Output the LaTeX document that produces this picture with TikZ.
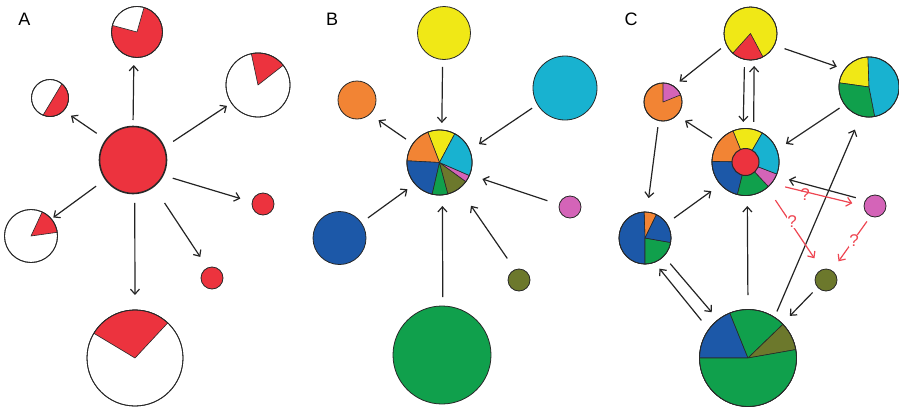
\documentclass[tikz,border=0pt]{standalone}
\usepackage{fontspec}
\setmainfont{Liberation Sans}
\usetikzlibrary{arrows.meta}
\definecolor{redP}{RGB}{236,51,62}
\definecolor{yellowP}{RGB}{240,232,22}
\definecolor{cyanP}{RGB}{24,178,208}
\definecolor{orangeP}{RGB}{242,132,52}
\definecolor{blueP}{RGB}{28,88,168}
\definecolor{greenP}{RGB}{16,160,76}
\definecolor{oliveP}{RGB}{108,120,44}
\definecolor{pinkP}{RGB}{212,100,184}
\definecolor{edgec}{RGB}{40,40,40}
\definecolor{arrc}{RGB}{35,35,35}
\definecolor{qred}{RGB}{238,70,82}
\tikzset{
  pn/.style={circle, inner sep=0pt, outer sep=0pt, draw=edgec, line width=0.8pt},
  rim/.style={draw=edgec, line width=0.8pt},
  arr/.style={draw=arrc, line width=1.2pt, -{Straight Barb[length=5pt,width=9pt]}},
  qarr/.style={draw=qred, line width=1.2pt, -{Straight Barb[length=5pt,width=9pt]}},
  panel/.style={font=\fontsize{18}{18}\selectfont, inner sep=0pt},
  qm/.style={text=qred, font=\fontsize{17}{17}\selectfont, inner sep=0.5pt}
}
\newcommand\pieslice[5]{\filldraw[fill=#5, draw=edgec, line width=0.6pt, line join=round] (#1.center) -- ++(#3:#2pt) arc[start angle=#3, end angle=#4, radius=#2pt] -- cycle;}
\newcommand\rimof[2]{\draw[rim] (#1.center) circle[radius=#2pt];}
\begin{document}
\begin{tikzpicture}[x=1pt,y=1pt]
\useasboundingbox (0,0) rectangle (899,-407);
% ---------- labels
\node[panel] (labA) at (24.5,-19) {A};
\node[panel] (labB) at (332,-19) {B};
\node[panel] (labC) at (631,-19) {C};
% ---------- panel A
\node[pn, minimum size=51pt, fill=redP] (aT) at (137,-32) {};
\pieslice{aT}{25.5}{74}{165}{white}
\rimof{aT}{25.5}
\node[pn, minimum size=37pt, fill=white] (aUL) at (50,-98) {};
\filldraw[fill=redP, draw=edgec, line width=0.6pt] (aUL.center) ++(-112:18.5pt) arc[start angle=-112, end angle=50, radius=18.5pt] -- cycle;
\rimof{aUL}{18.5}
\node[pn, minimum size=64pt, fill=white] (aUR) at (258,-85) {};
\pieslice{aUR}{32}{38}{102}{redP}
\rimof{aUR}{32}
\node[pn, minimum size=67pt, fill=redP, line width=1.6pt] (aC) at (133,-160) {};
\node[pn, minimum size=53pt, fill=white] (aLL) at (31,-236) {};
\pieslice{aLL}{26.5}{8}{65}{redP}
\rimof{aLL}{26.5}
\node[pn, minimum size=22pt, fill=redP] (aR) at (263,-204) {};
\node[pn, minimum size=22pt, fill=redP] (aLR) at (212,-278) {};
\node[pn, minimum size=96pt, fill=white] (aB) at (135,-358) {};
\pieslice{aB}{48}{47}{149}{redP}
\rimof{aB}{48}
\draw[arr, shorten <=6.5pt, shorten >=7.7pt] (aC.90) -- (aT.-97);
\draw[arr, shorten <=11.5pt, shorten >=9pt] (aC.143) -- (aUL.-43.5);
\draw[arr, shorten <=10.9pt, shorten >=5.4pt] (aC.22.5) -- (aUR.-146);
\draw[arr, shorten <=10.3pt, shorten >=12.3pt] (aC.-27) -- (aR.170);
\draw[arr, shorten <=19.9pt, shorten >=13.2pt] (aC.-52) -- (aLR.114);
\draw[arr, shorten <=9.5pt, shorten >=15pt] (aC.-87) -- (aB.90);
\draw[arr, shorten <=11.7pt, shorten >=2.5pt] (aC.-145) -- (aLL.40.8);
% ---------- panel B
\node[pn, minimum size=53pt, fill=yellowP] (bY) at (444,-33) {};
\node[pn, minimum size=64pt, fill=cyanP] (bCy) at (565,-88) {};
\node[pn, minimum size=38pt, fill=orangeP] (bO) at (357,-100) {};
\node[pn, minimum size=65pt, fill=white] (bC) at (439.5,-162.5) {};
\pieslice{bC}{32.5}{62}{111}{yellowP}
\pieslice{bC}{32.5}{111}{177}{orangeP}
\pieslice{bC}{32.5}{177}{257}{blueP}
\pieslice{bC}{32.5}{257}{285}{greenP}
\pieslice{bC}{32.5}{285}{324}{oliveP}
\pieslice{bC}{32.5}{324}{336.5}{pinkP}
\pieslice{bC}{32.5}{336.5}{422}{cyanP}
\rimof{bC}{32.5}
\node[pn, minimum size=53pt, fill=blueP] (bBl) at (339.5,-238) {};
\node[pn, minimum size=22pt, fill=pinkP] (bPk) at (570,-207) {};
\node[pn, minimum size=22pt, fill=oliveP] (bOl) at (519,-280) {};
\node[pn, minimum size=98pt, fill=greenP] (bG) at (442,-355) {};
\draw[arr, shorten <=7.5pt, shorten >=7.1pt] (bY.-93) -- (bC.86);
\draw[arr, shorten <=6.6pt, shorten >=11.2pt] (bCy.-149) -- (bC.22);
\draw[arr, shorten <=8.4pt, shorten >=10.7pt] (bC.145) -- (bO.-48);
\draw[arr, shorten <=8.3pt, shorten >=9.3pt] (bBl.35) -- (bC.-139);
\draw[arr, shorten <=12.5pt, shorten >=13.5pt] (bPk.168) -- (bC.-22);
\draw[arr, shorten <=13.7pt, shorten >=21pt] (bOl.111) -- (bC.-53);
\draw[arr, shorten <=9pt, shorten >=11.1pt] (bG.89) -- (bC.-85);
% ---------- panel C
\node[pn, minimum size=53pt, fill=yellowP] (cY) at (750.5,-33.5) {};
\pieslice{cY}{26.5}{-132}{-62}{redP}
\rimof{cY}{26.5}
\node[pn, minimum size=60pt, fill=cyanP] (cRt) at (869,-87) {};
\pieslice{cRt}{30}{92}{172}{yellowP}
\pieslice{cRt}{30}{172}{281}{greenP}
\pieslice{cRt}{30}{281}{452}{cyanP}
\rimof{cRt}{30}
\node[pn, minimum size=38pt, fill=orangeP] (cO) at (663,-102) {};
\pieslice{cO}{19}{22}{90}{pinkP}
\rimof{cO}{19}
\node[pn, minimum size=67pt, fill=white] (cC) at (745.5,-162) {};
\pieslice{cC}{33.5}{60}{112}{yellowP}
\pieslice{cC}{33.5}{112}{179}{orangeP}
\pieslice{cC}{33.5}{179}{256}{blueP}
\pieslice{cC}{33.5}{256}{313}{greenP}
\pieslice{cC}{33.5}{313}{339}{pinkP}
\pieslice{cC}{33.5}{339}{420}{cyanP}
\rimof{cC}{33.5}
\filldraw[fill=redP, draw=edgec, line width=1pt] (cC.center) circle[radius=13.5pt];
\node[pn, minimum size=52pt, fill=blueP] (cL) at (645,-238) {};
\pieslice{cL}{26}{64}{92}{orangeP}
\pieslice{cL}{26}{92}{270}{blueP}
\pieslice{cL}{26}{270}{350}{greenP}
\pieslice{cL}{26}{350}{424}{blueP}
\rimof{cL}{26}
\node[pn, minimum size=22pt, fill=pinkP] (cPk) at (875,-206) {};
\node[pn, minimum size=22pt, fill=oliveP] (cOl) at (826,-280) {};
\node[pn, minimum size=97pt, fill=greenP] (cB) at (748,-358) {};
\pieslice{cB}{48.5}{112}{180}{blueP}
\pieslice{cB}{48.5}{44}{112}{greenP}
\pieslice{cB}{48.5}{10}{44}{oliveP}
\pieslice{cB}{48.5}{180}{370}{greenP}
\rimof{cB}{48.5}
% black arrows C
\draw[arr, shorten <=6.9pt, shorten >=7.6pt] (cY.-156) -- (cO.56);
\draw[arr, shorten <=10.8pt, shorten >=8.4pt] (cY.-26) -- (cRt.144);
\draw[arr, shorten <=7.8pt, shorten >=6.6pt] (cY.-103) -- (cC.94);
\draw[arr, shorten <=7.6pt, shorten >=6.3pt] (cC.76.6) -- (cY.-82);
\draw[arr, shorten <=6.2pt, shorten >=11pt] (cRt.-144) -- (cC.21);
\draw[arr, shorten <=7.7pt, shorten >=10pt] (cC.144) -- (cO.-44);
\draw[arr, shorten <=6.7pt, shorten >=14.1pt] (cO.-103.5) -- (cL.86);
\draw[arr, shorten <=9.2pt, shorten >=11.5pt] (cL.34.6) -- (cC.-138);
\draw[arr, shorten <=11.7pt, shorten >=8.2pt] (cB.144) -- (cL.-69.4);
\draw[arr, shorten <=10pt, shorten >=9.9pt] (cL.-44) -- (cB.128);
\draw[arr, shorten <=14.5pt, shorten >=10.6pt] (cB.90) -- (cC.-87);
\draw[arr, shorten <=6.4pt, shorten >=14.9pt] (cB.57) -- (cRt.-106.5);
\draw[arr, shorten <=7.4pt, shorten >=10.9pt] (cOl.-139) -- (cB.45);
\draw[arr, shorten <=10.1pt, shorten >=13.5pt] (cPk.149) -- (cC.-25);
% red uncertain arrows
\draw[qarr, shorten <=14.4pt, shorten >=12pt] (cC.-40) -- (cPk.180);
\draw[qarr, shorten <=15pt, shorten >=13.7pt] (cC.-50) -- (cOl.111);
\draw[qarr, shorten <=6.5pt, shorten >=11.5pt] (cPk.-113.6) -- (cOl.58);
\node[qm] (q1) at (805,-195) {?};
\node[qm, fill=white] (q2) at (792,-222) {?};
\node[qm, fill=white] (q3) at (854,-241) {?};
\end{tikzpicture}
\end{document}
